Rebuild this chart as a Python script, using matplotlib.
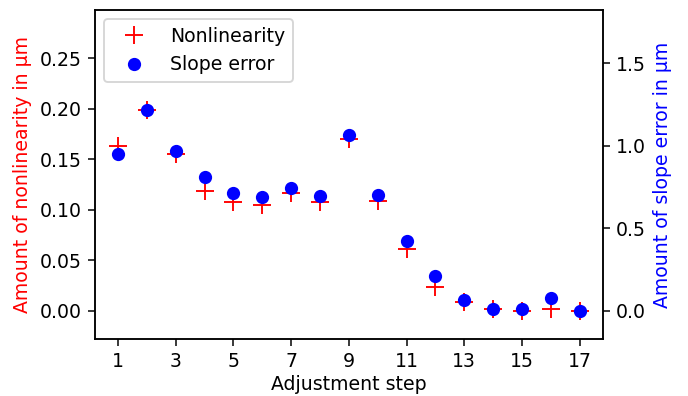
import matplotlib as mpl; mpl.use("Agg")
import matplotlib.pyplot as plt

DPI = 136

# adjustment steps and measured values
steps = list(range(1, 18))
nonlin = [0.163, 0.199, 0.155, 0.119, 0.108, 0.105, 0.117, 0.108, 0.170,
          0.109, 0.061, 0.023, 0.009, 0.002, 0.000, 0.002, 0.000]
slope = [0.95, 1.218, 0.968, 0.81, 0.713, 0.693, 0.745, 0.699, 1.068,
         0.701, 0.422, 0.212, 0.067, 0.010, 0.010, 0.079, 0.000]

fig, ax1 = plt.subplots(figsize=(688 / DPI, 396 / DPI), dpi=DPI)
fig.subplots_adjust(left=0.138, right=0.876, bottom=0.144, top=0.975)
ax2 = ax1.twinx()

l1, = ax1.plot(steps, nonlin, "+", color="red", ms=10, label="Nonlinearity")
l2, = ax2.plot(steps, slope, "o", color="blue", ms=6, label="Slope error")

ax1.set_xlabel("Adjustment step", labelpad=2)
ax1.set_ylabel("Amount of nonlinearity in µm", color="red")
ax2.set_ylabel("Amount of slope error in µm", color="blue")
ax1.set_xticks(range(1, 18, 2))
ax1.set_yticks([0, 0.05, 0.10, 0.15, 0.20, 0.25])
ax2.set_yticks([0, 0.5, 1.0, 1.5])
ax1.set_ylim(-0.028, 0.298)
ax2.set_ylim(-0.17, 1.824)

ax1.legend(handles=[l1, l2], loc="upper left", handlelength=2.3)

fig.savefig("out.png", dpi=DPI)
